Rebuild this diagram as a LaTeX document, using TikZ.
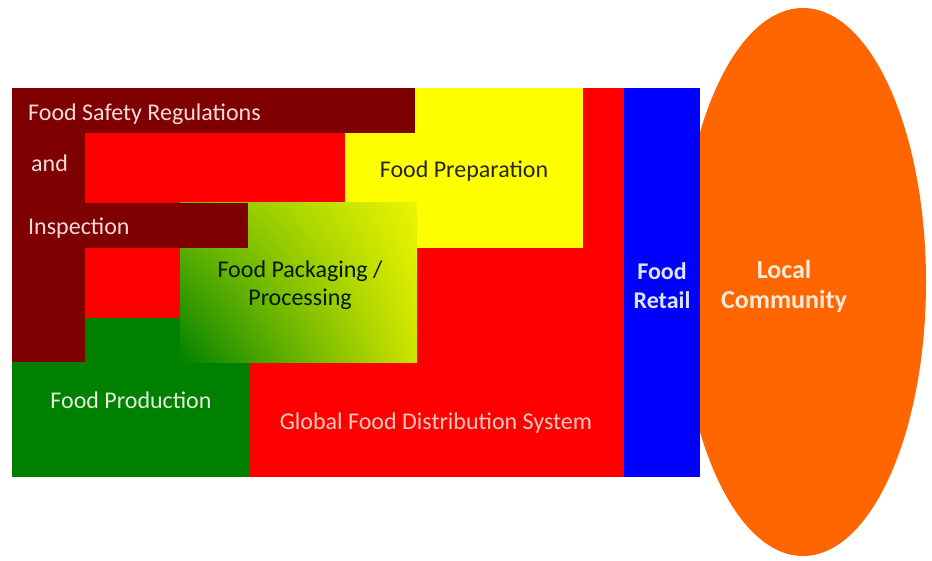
\documentclass[tikz,border=0pt]{standalone}
\usepackage{fontspec}
\setmainfont{Carlito}
\usepackage{xcolor}
\usepackage{tikz}
\usetikzlibrary{shadings}
\definecolor{regmaroon}{RGB}{127,0,0}
\definecolor{regred}{RGB}{255,0,0}
\definecolor{prepyellow}{RGB}{255,255,0}
\definecolor{prodgreen}{RGB}{0,128,0}
\definecolor{retailblue}{RGB}{0,0,255}
\definecolor{commorange}{RGB}{255,102,0}
\definecolor{packlight}{RGB}{120,190,0}
\definecolor{packmid}{RGB}{205,228,0}
\definecolor{packtop}{RGB}{235,245,0}
\definecolor{palepink}{RGB}{242,220,219}
\definecolor{salmon}{RGB}{250,200,190}
\definecolor{palegreen}{RGB}{225,240,215}
\definecolor{paleblue}{RGB}{220,228,245}
\definecolor{peach}{RGB}{253,233,217}
\tikzstyle{every node}=[font=\fontsize{24}{28}\selectfont,inner sep=0pt]
\tikzstyle{regtext}=[anchor=west,text=palepink]
\tikzstyle{boldtext}=[align=center,font=\fontsize{24}{29}\selectfont\bfseries]

\begin{document}
\begin{tikzpicture}[x=1pt,y=1pt]
\useasboundingbox (0,0) rectangle (932,560);

\begin{scope}
  \fill[commorange] (803,278) ellipse [x radius=123,y radius=274];
  \fill[regred] (12,83) rectangle (624,472);
  \fill[prepyellow] (345,312) rectangle (583,472);
  \fill[regred] (85,357) rectangle (345,427);
  \fill[prodgreen] (12,83) rectangle (250,242);
  \shade[upper left=packlight,upper right=packtop,lower left=prodgreen,lower right=packmid]
    (180,197) rectangle (417,357);
  \fill[regmaroon] (12,427) rectangle (415,472);
  \fill[regmaroon] (12,198) rectangle (85,472);
  \fill[regmaroon] (12,312) rectangle (248,357);
  \fill[retailblue] (624,83) rectangle (700,472);
\end{scope}

\node[regtext] (safety) at (28,446) {Food Safety Regulations};
\node[regtext] (and) at (31,397) {and};
\node[regtext] (inspect) at (28,332) {Inspection};
\node[text=black!85] (prep) at (464,389) {Food Preparation};
\node[align=center,text=black!80!prodgreen] (pack) at (300,275) {Food Packaging /\\Processing};
\node[text=palegreen] (prod) at (131,160) {Food Production};
\node[text=salmon] (dist) at (436,137) {Global Food Distribution System};
\node[boldtext,text=paleblue] (retail) at (662,274) {Food\\Retail};
\node[boldtext,text=peach,font=\fontsize{26}{30}\selectfont\bfseries] (local) at (784,274) {Local\\Community};

\end{tikzpicture}
\end{document}
